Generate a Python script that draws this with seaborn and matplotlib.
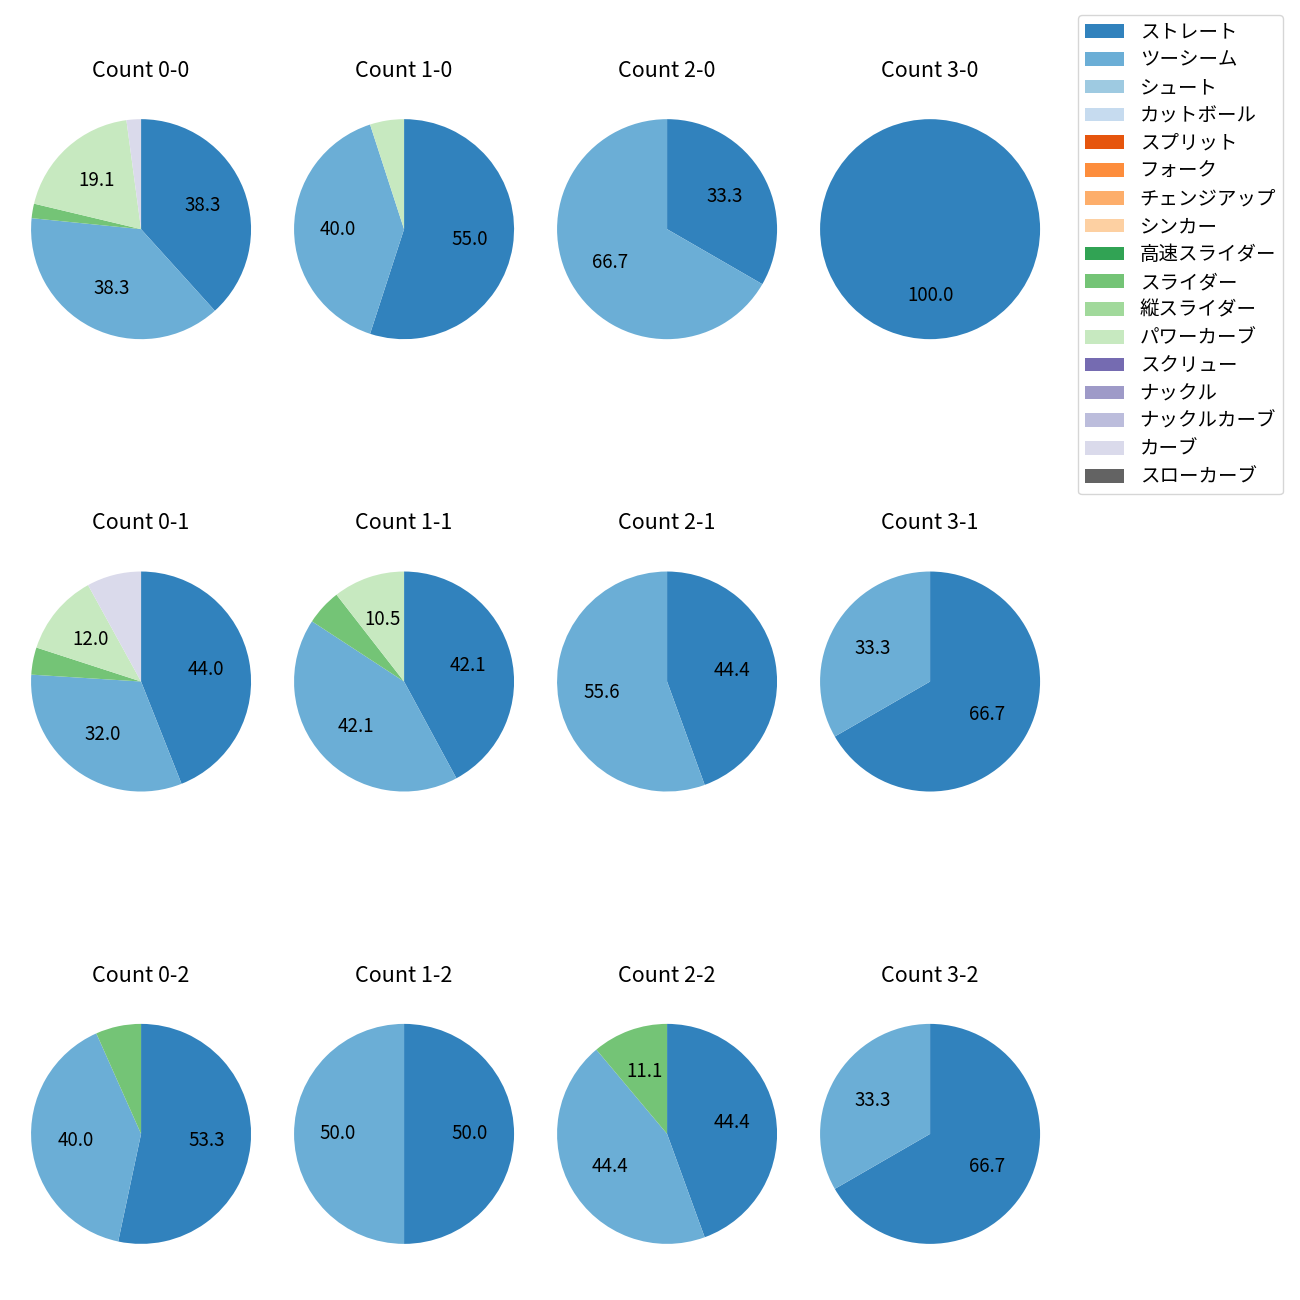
import matplotlib
matplotlib.use("Agg")
import matplotlib.pyplot as plt
import seaborn as sns

pitch_types = ['ストレート', 'ツーシーム', 'シュート', 'カットボール', 'スプリット', 'フォーク',
               'チェンジアップ', 'シンカー', '高速スライダー', 'スライダー', '縦スライダー',
               'パワーカーブ', 'スクリュー', 'ナックル', 'ナックルカーブ', 'カーブ', 'スローカーブ']

# pitch counts per ball-strike count, same order as pitch_types
count_0_0 = [18, 18, 0, 0, 0, 0, 0, 0, 0, 1, 0, 9, 0, 0, 0, 1, 0]
count_1_0 = [11, 8, 0, 0, 0, 0, 0, 0, 0, 0, 0, 1, 0, 0, 0, 0, 0]
count_2_0 = [1, 2, 0, 0, 0, 0, 0, 0, 0, 0, 0, 0, 0, 0, 0, 0, 0]
count_3_0 = [1, 0, 0, 0, 0, 0, 0, 0, 0, 0, 0, 0, 0, 0, 0, 0, 0]
count_0_1 = [11, 8, 0, 0, 0, 0, 0, 0, 0, 1, 0, 3, 0, 0, 0, 2, 0]
count_1_1 = [8, 8, 0, 0, 0, 0, 0, 0, 0, 1, 0, 2, 0, 0, 0, 0, 0]
count_2_1 = [4, 5, 0, 0, 0, 0, 0, 0, 0, 0, 0, 0, 0, 0, 0, 0, 0]
count_3_1 = [2, 1, 0, 0, 0, 0, 0, 0, 0, 0, 0, 0, 0, 0, 0, 0, 0]
count_0_2 = [8, 6, 0, 0, 0, 0, 0, 0, 0, 1, 0, 0, 0, 0, 0, 0, 0]
count_1_2 = [1, 1, 0, 0, 0, 0, 0, 0, 0, 0, 0, 0, 0, 0, 0, 0, 0]
count_2_2 = [4, 4, 0, 0, 0, 0, 0, 0, 0, 1, 0, 0, 0, 0, 0, 0, 0]
count_3_2 = [2, 1, 0, 0, 0, 0, 0, 0, 0, 0, 0, 0, 0, 0, 0, 0, 0]

counts = {
    '0-0': count_0_0, '1-0': count_1_0, '2-0': count_2_0, '3-0': count_3_0,
    '0-1': count_0_1, '1-1': count_1_1, '2-1': count_2_1, '3-1': count_3_1,
    '0-2': count_0_2, '1-2': count_1_2, '2-2': count_2_2, '3-2': count_3_2,
}

plt.rcParams['font.family'] = ['Noto Sans CJK JP', 'DejaVu Sans']
colors = sns.color_palette('tab20c', len(pitch_types))

fig, axes = plt.subplots(3, 4, figsize=(13, 13))
fig.subplots_adjust(left=0.00735, right=0.8166, wspace=0,
                    top=0.9488, bottom=0.0027, hspace=0.391)

wedges = None
for ax, (name, vals) in zip(axes.flat, counts.items()):
    w = ax.pie(vals, colors=colors, startangle=90, counterclock=False,
               radius=1.0456,
               autopct=lambda p: f'{p:.1f}' if p >= 10 else '',
               textprops={'fontsize': 13.5})[0]
    ax.set_title(f'Count {name}', fontsize=15.5, pad=15)
    if wedges is None:
        wedges = w

fig.legend(wedges, pitch_types, loc='upper right', bbox_to_anchor=(0.9869, 0.9885),
           borderaxespad=0, fontsize=14, labelspacing=0.35, borderpad=0.35)

fig.savefig('out.png', dpi=100)
